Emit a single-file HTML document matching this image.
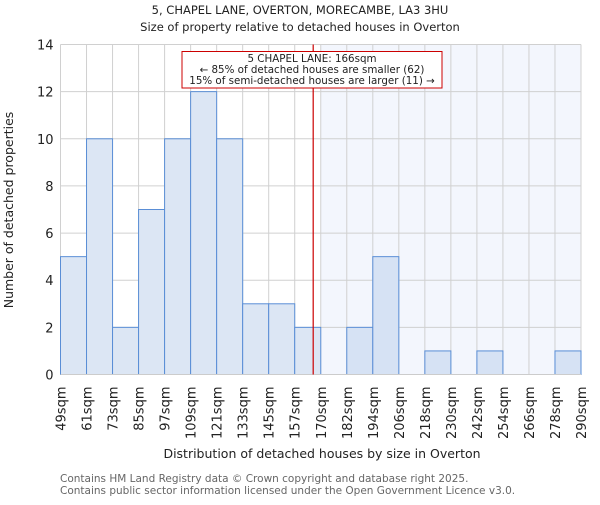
<!DOCTYPE html>
<html><head><meta charset="utf-8"><style>
body{margin:0;background:#fff;}
svg{font-family:"DejaVu Sans","Liberation Sans",sans-serif;}
</style></head><body>
<svg id="chart" width="600" height="500" xmlns="http://www.w3.org/2000/svg">
<text x="300" y="14" text-anchor="middle" font-size="11.5" fill="#222">5, CHAPEL LANE, OVERTON, MORECAMBE, LA3 3HU</text>
<text x="300" y="31" text-anchor="middle" font-size="11.5" fill="#222">Size of property relative to detached houses in Overton</text>
<g id="plot"></g>
<text transform="translate(13,210) rotate(-90)" text-anchor="middle" font-size="12.5" fill="#222">Number of detached properties</text>
<text x="322" y="458" text-anchor="middle" font-size="12.5" fill="#222">Distribution of detached houses by size in Overton</text>
<text x="60" y="482" font-size="10.5" fill="#666">Contains HM Land Registry data © Crown copyright and database right 2025.</text>
<text x="60" y="494" font-size="10.5" fill="#666">Contains public sector information licensed under the Open Government Licence v3.0.</text>
</svg>
<script>
const binLabels=["49sqm","61sqm","73sqm","85sqm","97sqm","109sqm","121sqm","133sqm","145sqm","157sqm","170sqm","182sqm","194sqm","206sqm","218sqm","230sqm","242sqm","254sqm","266sqm","278sqm","290sqm"];
const counts=[5,10,2,7,10,12,10,3,3,2,0,2,5,0,1,0,1,0,0,1];
const yTicks=[0,2,4,6,8,10,12,14];
const propertySize=166;
const binStart=49, binStep=12.05;
const X0=60.5,X1=581,Y0=374.5,Y1=44.5,YMAX=14;
const bw=(X1-X0)/counts.length;
const xs=i=>X0+i*bw;
const xv=v=>X0+(v-binStart)/binStep*bw;
const ys=v=>Y0-(v/YMAX)*(Y0-Y1);
const NS="http://www.w3.org/2000/svg";
const g=document.getElementById('plot');
function mk(t,a,p){const e=document.createElementNS(NS,t);for(const k in a)e.setAttribute(k,a[k]);(p||g).appendChild(e);return e;}
const shadeStart=xs(Math.ceil((propertySize-binStart)/binStep));
const sh=mk('rect',{x:shadeStart,y:Y1,width:X1-shadeStart,height:Y0-Y1,fill:'#f3f6fd'});


for(let i=0;i<=counts.length;i++){const l=mk('line',{x1:xs(i),x2:xs(i),y1:Y1,y2:Y0,stroke:'#d0d0d0','stroke-width':1});

}
yTicks.forEach(t=>{const l=mk('line',{x1:X0,x2:X1,y1:ys(t),y2:ys(t),stroke:'#d0d0d0','stroke-width':1});


const tx=mk('text',{x:X0-7,y:ys(t)+5,'text-anchor':'end','font-size':13,fill:'#222'});tx.textContent=t;

});
counts.forEach((c,i)=>{if(c<=0)return;const r=mk('rect',{x:xs(i),y:ys(c),width:bw,height:Y0-ys(c),fill:xs(i)>=shadeStart?'#d6e2f4':'#dce6f4',stroke:'#5a8ed6','stroke-width':1});

});
binLabels.forEach((s,i)=>{const tx=mk('text',{transform:`translate(${xs(i)+5},${Y0+12}) rotate(-90)`,'text-anchor':'end','font-size':13,fill:'#222'});tx.textContent=s;

});
const ax=mk('line',{x1:X0,x2:X1,y1:Y0,y2:Y0,stroke:'#ccc'});


const px=xv(propertySize);
const ml=mk('line',{x1:px,x2:px,y1:Y1,y2:Y0,stroke:'#cc0000','stroke-width':1.2});


const box=mk('rect',{x:182,y:51.5,width:260,height:36.5,fill:'#fff',stroke:'#cc0000','stroke-width':1});


["5 CHAPEL LANE: 166sqm","← 85% of detached houses are smaller (62)","15% of semi-detached houses are larger (11) →"].forEach((s,i)=>{const t=mk('text',{x:312,y:62+i*11,'text-anchor':'middle','font-size':10.3,fill:'#222'});t.textContent=s;

});
</script>
</body></html>
